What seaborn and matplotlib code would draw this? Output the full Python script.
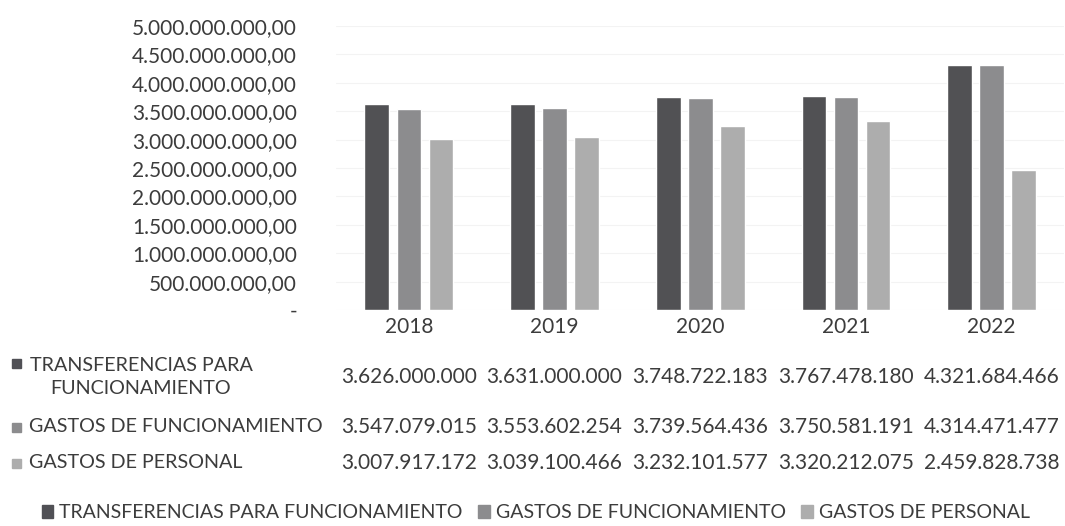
import pandas as pd
import numpy as np
import matplotlib.pyplot as plt
import seaborn as sns
from matplotlib.transforms import blended_transform_factory

# Data
years = ['2018', '2019', '2020', '2021', '2022']
series = ['TRANSFERENCIAS PARA FUNCIONAMIENTO', 'GASTOS DE FUNCIONAMIENTO', 'GASTOS DE PERSONAL']
row_labels = ['TRANSFERENCIAS PARA\nFUNCIONAMIENTO', 'GASTOS DE FUNCIONAMIENTO', 'GASTOS DE PERSONAL']
transferencias = [3626000000, 3631000000, 3748722183, 3767478180, 4321684466]
gastos_func = [3547079015, 3553602254, 3739564436, 3750581191, 4314471477]
gastos_pers = [3007917172, 3039100466, 3232101577, 3320212075, 2459828738]
yticks = [0, 500e6, 1000e6, 1500e6, 2000e6, 2500e6, 3000e6, 3500e6, 4000e6, 4500e6, 5000e6]
colors = ['#505055', '#8c8c8e', '#adadad']

df = pd.DataFrame({
    'year': years * 3,
    'serie': [s for s in series for _ in years],
    'valor': transferencias + gastos_func + gastos_pers,
})

sns.set_style('white')
plt.rcParams['font.family'] = ['Lato', 'DejaVu Sans']
txt = '#3c3c3c'

fig = plt.figure(figsize=(10.65, 5.26), dpi=100)
ax = fig.add_axes([0.3155, 0.4106, 0.684, 0.54])

sns.barplot(data=df, x='year', y='valor', hue='serie', hue_order=series,
            palette=colors, width=0.66, gap=0.23, ax=ax, legend=False)

ax.set_ylim(0, 5e9)
ax.set_yticks(yticks)
ax.set_yticklabels(['-' if v == 0 else f'{v:,.2f}'.replace(',', 'X').replace('.', ',').replace('X', '.')
                    for v in yticks])
ax.yaxis.grid(True, color='#f3f3f3', linewidth=0.8)
ax.set_axisbelow(True)
ax.tick_params(axis='y', length=0, pad=28, labelsize=15, labelcolor=txt)
ax.tick_params(axis='x', length=0, pad=5, labelsize=15, labelcolor=txt)
ax.set_xlabel('')
ax.set_ylabel('')
for s in ax.spines.values():
    s.set_visible(False)

# Data table under the chart
tr = blended_transform_factory(ax.transData, fig.transFigure)
row_y = [1 - 377 / 526, 1 - 427 / 526, 1 - 463 / 526]
square_y = [1 - 363 / 526, 1 - 427 / 526, 1 - 463 / 526]
all_vals = [transferencias, gastos_func, gastos_pers]
sq_w, sq_h = 9 / 1065, 9 / 526
for r in range(3):
    fig.patches.append(plt.Rectangle((12 / 1065, square_y[r] - sq_h / 2), sq_w, sq_h,
                                     color=colors[r], transform=fig.transFigure))
    if r == 0:
        fig.text(141 / 1065, row_y[r], row_labels[r], ha='center', va='center',
                 fontsize=14.2, color=txt, linespacing=1.45)
    else:
        fig.text(29 / 1065, row_y[r], row_labels[r], ha='left', va='center',
                 fontsize=14.2, color=txt)
    for i, v in enumerate(all_vals[r]):
        fig.text(i, row_y[r], f'{v:,}'.replace(',', '.'), transform=tr,
                 ha='center', va='center', fontsize=15, color=txt)

# Legend
handles = [plt.Rectangle((0, 0), 1, 1, color=c) for c in colors]
fig.legend(handles, series, loc='center', bbox_to_anchor=(0.503, 1 - 513 / 526),
           ncol=3, frameon=False, fontsize=14, handlelength=0.6, handleheight=0.6,
           handletextpad=0.3, columnspacing=0.8, labelcolor=txt)

fig.savefig('out.png', dpi=100)
